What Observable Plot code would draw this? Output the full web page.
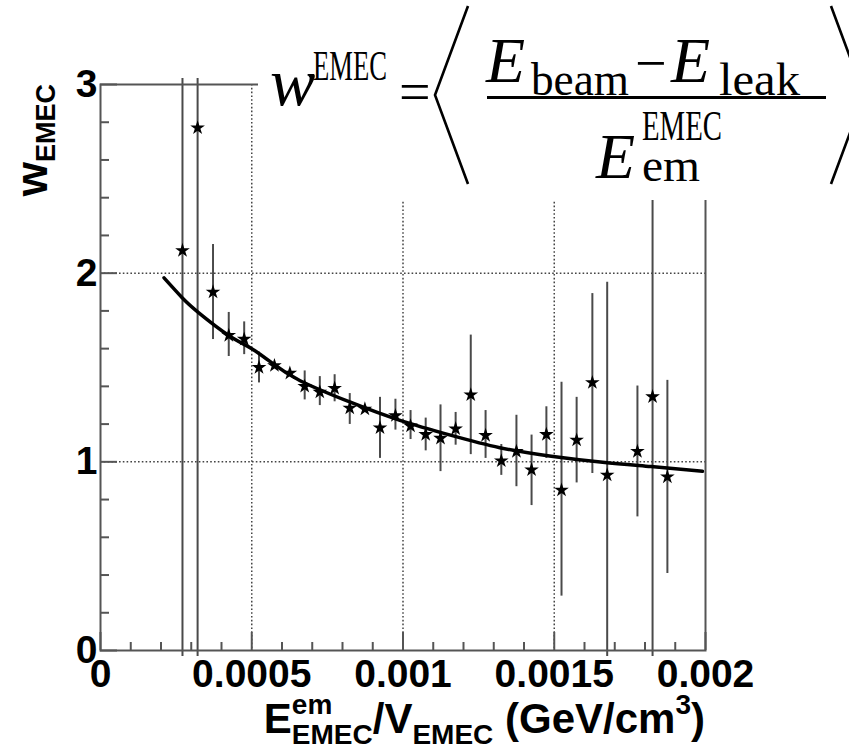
<!DOCTYPE html>
<html>
<head>
<meta charset="utf-8">
<script src="https://cdn.jsdelivr.net/npm/d3@7"></script>
<script src="https://cdn.jsdelivr.net/npm/@observablehq/plot@0.6"></script>
<style>
  html, body { margin: 0; padding: 0; background: white; }
  #chart { position: relative; width: 849px; height: 753px; }
  text { white-space: pre; }
</style>
</head>
<body>
<div id="chart"></div>
<script>
// ---- data ----
const ptX  = [0.000271,0.000321,0.000372,0.000424,0.000475,0.000524,0.000575,0.000626,0.000675,0.000725,0.000774,0.000824,0.000874,0.000924,0.000975,0.001025,0.001075,0.001124,0.001174,0.001224,0.001273,0.001325,0.001375,0.001425,0.001474,0.001524,0.001574,0.001626,0.001675,0.001775,0.001825,0.001874];
const ptY  = [2.12,2.77,1.90,1.67,1.65,1.50,1.51,1.47,1.40,1.37,1.39,1.285,1.28,1.18,1.245,1.19,1.145,1.125,1.175,1.355,1.14,1.005,1.055,0.958,1.145,0.85,1.115,1.42,0.93,1.055,1.345,0.92];
const ptLo = [0,0,1.68,1.59,1.60,1.45,1.49,1.45,1.36,1.33,1.35,1.23,1.26,1.05,1.20,1.15,1.09,0.98,1.12,1.07,1.05,0.96,0.90,0.80,1.05,0.32,0.92,0.97,0,0.74,0,0.44];
const ptHi = [3,3,2.12,1.76,1.71,1.55,1.53,1.49,1.45,1.42,1.43,1.33,1.30,1.31,1.30,1.24,1.20,1.27,1.23,1.64,1.24,1.06,1.215,1.11,1.26,1.39,1.31,1.86,1.92,1.37,3,1.40];

const fitX = [0.00021,0.00027,0.000325,0.000424,0.0005,0.00057,0.00066,0.000826,0.00099,0.00116,0.00132,0.00149,0.00166,0.00182,0.00199];
const fitY = [1.975,1.87,1.79,1.67,1.60,1.52,1.43,1.316,1.22,1.14,1.075,1.03,0.998,0.975,0.95];

const xTicks = [0,0.0005,0.001,0.0015,0.002];
const xTickLabels = ["0","0.0005","0.001","0.0015","0.002"];
const xMinor = [0.0001,0.0002,0.0003,0.0004,0.0006,0.0007,0.0008,0.0009,0.0011,0.0012,0.0013,0.0014,0.0016,0.0017,0.0018,0.0019];
const yTicks = [0,1,2,3];
const yTickLabels = ["0","1","2","3"];
const yMinor = [0.2,0.4,0.6,0.8,1.2,1.4,1.6,1.8,2.2,2.4,2.6,2.8];
const xGrid = [0.0005,0.001,0.0015];
const yGrid = [1,2];

// ---- layout ----
const W = 849, H = 753, mL = 100, mR = 144, mT = 84, mB = 103;
const xDom = [0, 0.002], yDom = [0, 3];
const pxX = (W - mL - mR) / (xDom[1] - xDom[0]);
const pxY = (H - mT - mB) / (yDom[1] - yDom[0]);
const gap = 6;

const points = ptX.map((x, i) => ({x, y: ptY[i], lo: ptLo[i], hi: ptHi[i]}));
const lowerBars = points.filter(d => (d.y - d.lo) * pxY > gap);
const upperBars = points.filter(d => (d.hi - d.y) * pxY > gap);
const fit = fitX.map((x, i) => ({x, y: fitY[i]}));

const axisColor = "#555";
const tickFont = {fontSize: 39, fontWeight: "bold"};

const svg = Plot.plot({
  width: W, height: H,
  marginLeft: mL, marginRight: mR, marginTop: mT, marginBottom: mB,
  x: {domain: xDom},
  y: {domain: yDom},
  style: {fontFamily: "'Liberation Sans', Arial, sans-serif", background: "white", color: "black"},
  marks: [
    Plot.ruleY(yGrid, {stroke: "#444", strokeWidth: 1.5, strokeDasharray: "1.6,2.2"}),
    Plot.ruleX(xGrid, {stroke: "#444", strokeWidth: 1.5, strokeDasharray: "1.6,2.2"}),
    Plot.ruleY(yMinor, {y: d => d, x1: 0, x2: 9 / pxX, stroke: axisColor, strokeWidth: 2}),
    Plot.ruleY(yTicks, {y: d => d, x1: 0, x2: 17 / pxX, stroke: axisColor, strokeWidth: 2}),
    Plot.ruleX(xMinor, {x: d => d, y1: 0, y2: 8 / pxY, stroke: axisColor, strokeWidth: 2}),
    Plot.ruleX(xTicks, {x: d => d, y1: 0, y2: 18 / pxY, stroke: axisColor, strokeWidth: 2}),
    Plot.ruleX(lowerBars, {x: "x", y1: "lo", y2: "y", insetTop: gap, stroke: "#4a4a4a", strokeWidth: 2}),
    Plot.ruleX(upperBars, {x: "x", y1: "y", y2: "hi", insetBottom: gap, stroke: "#4a4a4a", strokeWidth: 2}),
    Plot.line(fit, {x: "x", y: "y", curve: "natural", stroke: "black", strokeWidth: 3.5}),
    Plot.dot(points, {x: "x", y: "y", symbol: "star", fill: "black", stroke: "none", r: 4.6}),
    Plot.frame({stroke: axisColor, strokeWidth: 2}),
    Plot.axisX({ticks: xTicks, tickFormat: (d, i) => xTickLabels[i], tickSize: 0, tickPadding: 9, label: null, ...tickFont}),
    Plot.axisY({ticks: yTicks, tickFormat: (d, i) => yTickLabels[i], tickSize: 0, tickPadding: 3, label: null, ...tickFont})
  ]
});
document.getElementById("chart").appendChild(svg);

// ---- rich text helper (axis titles) ----
const root = d3.select(svg);
function rich(g, pieces, family) {
  let cx = 0;
  for (const p of pieces) {
    const parts = p.stack || [p];
    let adv = 0;
    for (const q of parts) {
      const t = g.append("text")
        .attr("x", cx).attr("y", q.dy || 0)
        .attr("text-anchor", "start")
        .attr("font-family", family)
        .attr("font-size", q.s)
        .attr("font-weight", q.w || "normal")
        .attr("fill", "black")
        .text(q.t);
      adv = Math.max(adv, t.node().getComputedTextLength());
    }
    cx += adv;
  }
  return cx;
}
const sans = "'Liberation Sans', Arial, sans-serif";
const serif = "'Liberation Serif', 'Times New Roman', serif";

// x-axis title, right-aligned to the end of the axis
{
  const g = root.append("g").attr("text-anchor", "start");
  const len = rich(g, [
    {t: "E", s: 42, w: "bold"},
    {stack: [{t: "em", s: 28, w: "bold", dy: -19}, {t: "EMEC", s: 28, w: "bold", dy: 11}]},
    {t: "/V", s: 42, w: "bold"},
    {t: "EMEC", s: 28, w: "bold", dy: 11},
    {t: " (GeV/cm", s: 42, w: "bold"},
    {t: "3", s: 28, w: "bold", dy: -19},
    {t: ")", s: 42, w: "bold"}
  ], sans);
  g.attr("transform", `translate(${W - mR - len},733)`);
}
// y-axis title, rotated, ending at the top of the axis
{
  const g = root.append("g").attr("text-anchor", "start");
  const len = rich(g, [
    {t: "w", s: 44, w: "bold"},
    {t: "EMEC", s: 27, w: "bold", dy: 8}
  ], sans);
  g.attr("transform", `translate(47,${mT}) rotate(-90) translate(${-len},0)`);
}

// formula box (covers the upper-right part of the frame, as in the reference)
{
  const g = root.append("g").attr("text-anchor", "start");
  g.append("rect").attr("x", 258).attr("y", 0).attr("width", W - 258).attr("height", 200).attr("fill", "white");
  const put = (t, x, y, s, it, len) => {
    const e = g.append("text").attr("x", x).attr("y", y)
      .attr("text-anchor", "start")
      .attr("font-family", serif).attr("font-size", s)
      .attr("font-style", it ? "italic" : "normal").attr("fill", "black").text(t);
    if (len) e.attr("textLength", len).attr("lengthAdjust", "spacingAndGlyphs");
    return e;
  };
  put("w", 270, 105, 68, true);
  put("EMEC", 313, 80, 42, false, 74);
  put("=", 399, 111, 56);
  put("E", 486, 82, 64, true);
  put("beam", 531, 95, 46, false, 98);
  put("\u2212", 635, 82, 56);
  put("E", 671, 82, 64, true);
  put("leak", 719, 95, 46, false, 81);
  g.append("rect").attr("x", 487).attr("y", 96).attr("width", 339).attr("height", 3).attr("fill", "black");
  put("E", 596, 178, 64, true);
  put("EMEC", 642, 140, 42, false, 80);
  put("em", 642, 181, 46, false, 58);
  const br = d3.line();
  g.append("path").attr("d", br([[468, 6], [435, 95], [468, 184]])).attr("fill", "none").attr("stroke", "black").attr("stroke-width", 2.6);
  g.append("path").attr("d", br([[831, 6], [864, 95], [831, 184]])).attr("fill", "none").attr("stroke", "black").attr("stroke-width", 2.6);
}
</script>
</body>
</html>
